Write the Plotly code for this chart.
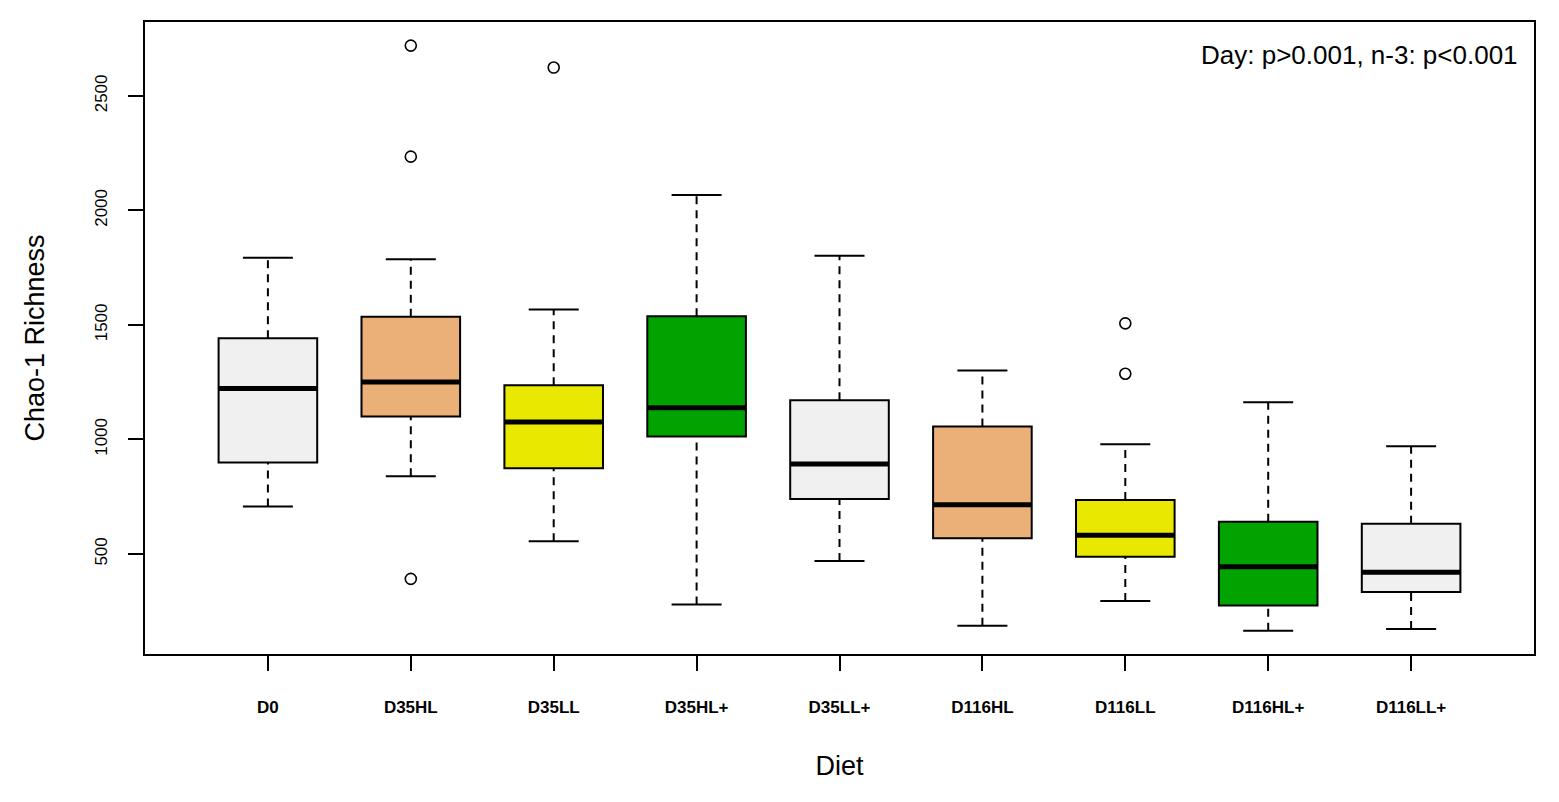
"""
Chao-1 richness by diet group, drawn as R-style boxplots.

Boxes are built from the summary statistics (quartiles, whisker ends
and outliers) read for each diet group.
"""

import plotly.graph_objects as go

# Diet groups along the x axis
diets = ["D0", "D35HL", "D35LL", "D35HL+", "D35LL+",
         "D116HL", "D116LL", "D116HL+", "D116LL+"]

# Five-number summaries per group
lower_whisker = [707, 839, 555, 279, 469, 186, 295, 164, 172]
q1 = [899, 1100, 874, 1013, 740, 569, 488, 275, 334]
median = [1222, 1251, 1076, 1138, 893, 715, 582, 444, 420]
q3 = [1442, 1536, 1237, 1538, 1171, 1057, 736, 641, 632]
upper_whisker = [1794, 1787, 1568, 2067, 1802, 1301, 979, 1162, 970]

# Outliers (group index, value)
outlier_group = [1, 1, 1, 2, 6, 6]
outlier_value = [2720, 2235, 391, 2624, 1507, 1287]

# Fill colour per group
fill_colors = ["#f0f0f0", "#ebb077", "#e8e800", "#00a300", "#f0f0f0",
               "#ebb077", "#e8e800", "#00a300", "#f0f0f0"]

y_ticks = [500, 1000, 1500, 2000, 2500]
annotation_text = "Day: p>0.001, n-3: p<0.001"

BOX_WIDTH = 0.69
CAP_WIDTH = 0.35


def main():
    xs = list(range(1, len(diets) + 1))
    fig = go.Figure()

    # Box bodies (q1 -> q3)
    fig.add_trace(go.Bar(
        x=xs,
        y=[b - a for a, b in zip(q1, q3)],
        base=q1,
        width=BOX_WIDTH,
        marker=dict(color=fill_colors, line=dict(color="black", width=2)),
        showlegend=False,
        hoverinfo="skip",
    ))

    # Dashed whiskers
    wx, wy = [], []
    for x, lo, a, b, hi in zip(xs, lower_whisker, q1, q3, upper_whisker):
        wx += [x, x, None, x, x, None]
        wy += [lo, a, None, b, hi, None]
    fig.add_trace(go.Scatter(
        x=wx, y=wy, mode="lines",
        line=dict(color="black", width=2, dash="8px,6px"),
        showlegend=False, hoverinfo="skip",
    ))

    # Whisker caps
    cx, cy = [], []
    for x, lo, hi in zip(xs, lower_whisker, upper_whisker):
        for v in (lo, hi):
            cx += [x - CAP_WIDTH / 2, x + CAP_WIDTH / 2, None]
            cy += [v, v, None]
    fig.add_trace(go.Scatter(
        x=cx, y=cy, mode="lines",
        line=dict(color="black", width=2),
        showlegend=False, hoverinfo="skip",
    ))

    # Thick median lines
    mx, my = [], []
    for x, m in zip(xs, median):
        mx += [x - BOX_WIDTH / 2, x + BOX_WIDTH / 2, None]
        my += [m, m, None]
    fig.add_trace(go.Scatter(
        x=mx, y=my, mode="lines",
        line=dict(color="black", width=5),
        showlegend=False, hoverinfo="skip",
    ))

    # Outliers as open circles
    fig.add_trace(go.Scatter(
        x=[xs[i] for i in outlier_group], y=outlier_value, mode="markers",
        marker=dict(symbol="circle-open", size=11, color="black",
                    line=dict(width=1.6)),
        showlegend=False,
    ))

    fig.add_annotation(
        text=annotation_text, xref="paper", yref="paper",
        x=0.99, y=0.975, xanchor="right", yanchor="top", showarrow=False,
        font=dict(size=26, color="black"),
    )

    # page body adds an 8px offset, margins compensate for it
    fig.update_layout(
        width=1559, height=802,
        margin=dict(l=137, r=33, t=14, b=156),
        plot_bgcolor="white", paper_bgcolor="white",
        font=dict(family="Liberation Sans, Arial, sans-serif", color="black"),
        xaxis=dict(
            range=[0.14, 9.86],
            tickvals=xs, ticktext=diets,
            ticks="outside", ticklen=15, tickwidth=2, tickcolor="black",
            tickfont=dict(size=17, weight="bold"),
            ticklabelstandoff=22,
            showline=True, linewidth=2, linecolor="black", mirror=True,
            showgrid=False, zeroline=False,
            title=dict(text="Diet", font=dict(size=27), standoff=40),
        ),
        yaxis=dict(
            range=[63, 2823],
            tickvals=y_ticks,
            ticks="outside", ticklen=15, tickwidth=2, tickcolor="black",
            tickangle=-90, tickfont=dict(size=17),
            ticklabelstandoff=14,
            showline=True, linewidth=2, linecolor="black", mirror=True,
            showgrid=False, zeroline=False,
            title=dict(text="Chao-1 Richness", font=dict(size=27), standoff=40),
        ),
    )

    fig.write_html("out.html")


if __name__ == "__main__":
    main()
